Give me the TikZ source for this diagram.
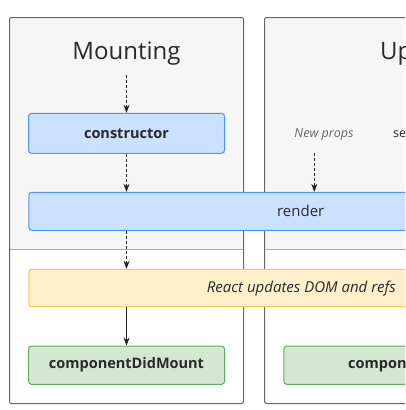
\documentclass[tikz,border=0pt]{standalone}
\usepackage{fontspec}
\setmainfont{Open Sans}
\usetikzlibrary{arrows.meta}
\definecolor{panelbg}{HTML}{F6F6F6}
\definecolor{panelln}{HTML}{666666}
\definecolor{sepln}{HTML}{AAAAAA}
\definecolor{bluefill}{HTML}{CCE0FF}
\definecolor{blueln}{HTML}{4C94FF}
\definecolor{yelfill}{HTML}{FFF0CC}
\definecolor{yelln}{HTML}{FFC94D}
\definecolor{grnfill}{HTML}{D3E7D1}
\definecolor{grnln}{HTML}{5CB05C}
\definecolor{txt}{HTML}{2A2A2A}
\definecolor{arr}{HTML}{222222}
\tikzset{
  phase/.style={draw=panelln, line width=1pt, rounded corners=2pt},
  bluebox/.style={draw=blueln, fill=bluefill, line width=1pt, rounded corners=3pt},
  yelbox/.style={draw=yelln, fill=yelfill, line width=1pt, rounded corners=3pt},
  grnbox/.style={draw=grnln, fill=grnfill, line width=1pt, rounded corners=3pt},
  lbl/.style={text=txt, inner sep=0pt, font=\fontsize{15}{18}\selectfont},
  blbl/.style={lbl, font=\fontsize{14.5}{18}\selectfont\bfseries},
  title/.style={text=txt, inner sep=0pt, font=\fontsize{24}{28}\selectfont},
  note/.style={text=black!60, inner sep=0pt, font=\fontsize{12.5}{14}\selectfont\itshape},
  dflow/.style={draw=arr, line width=0.8pt, dash pattern=on 3pt off 2pt, -{Stealth[length=8pt,width=6pt]}},
  sflow/.style={draw=arr, line width=0.8pt, -{Stealth[length=8pt,width=6pt]}}
}
\begin{document}
\begin{tikzpicture}[x=1pt,y=-1pt]
\useasboundingbox (0,0) rectangle (405,410);
\fill[white] (0,0) rectangle (405,410);
\clip (0,0) rectangle (405,410);
% panels
\foreach \xa/\xb in {9.5/243.5, 264.5/594} {
  \fill[panelbg, rounded corners=2pt] (\xa,17.5) rectangle (\xb,249);
  \draw[sepln, line width=1pt] (\xa,249) -- (\xb,249);
  \draw[phase] (\xa,17.5) rectangle (\xb,403.5);
}
\node[title, anchor=base] (mount) at (126.5,59) {Mounting};
\node[title, anchor=base west] (upd) at (380,59) {Updating};
\coordinate (mtop) at (126.5,75);
\node[bluebox, minimum width=196pt, minimum height=40pt] (ctor) at (126.5,133.3) {};
\node[blbl] (ctorl) at (126.5,133.3) {constructor};
\node[bluebox, minimum width=545pt, minimum height=38pt, anchor=west] (render) at (28.3,211.3) {};
\node[lbl] (renderl) at (300.7,211.3) {render};
\node[note] (props) at (324,134.3) {New props};
\node[lbl, anchor=west] (setst) at (393,134.3) {\fontsize{12.5}{14}\selectfont setState()};
\coordinate (ptop) at (314.3,153);
\node[yelbox, minimum width=545pt, minimum height=37.4pt, anchor=west] (dom) at (28.3,288) {};
\node[lbl, anchor=east, font=\fontsize{15}{16}\selectfont\itshape] (doml) at (396,288.5) {React updates DOM and refs};
\node[grnbox, minimum width=196pt, minimum height=38.3pt] (cdm) at (126.5,365.2) {};
\node[blbl] (cdml) at (126.5,365.2) {componentDidMount};
\node[grnbox, minimum width=296pt, minimum height=38.3pt, anchor=west] (cdu) at (283.3,365.2) {};
\node[blbl, anchor=west] (cdul) at (348,365.2) {componentDidUpdate};
% connectors
\draw[dflow] (mtop) -- (ctor.north);
\draw[dflow] (ctor.south) -- (ctor.south |- render.north);
\draw[dflow] (ptop) -- (ptop |- render.north);
\draw[dflow] (ctor.south |- render.south) -- (ctor.south |- dom.north);
\draw[sflow] (ctor.south |- dom.south) -- (cdm.north);
\end{tikzpicture}
\end{document}
